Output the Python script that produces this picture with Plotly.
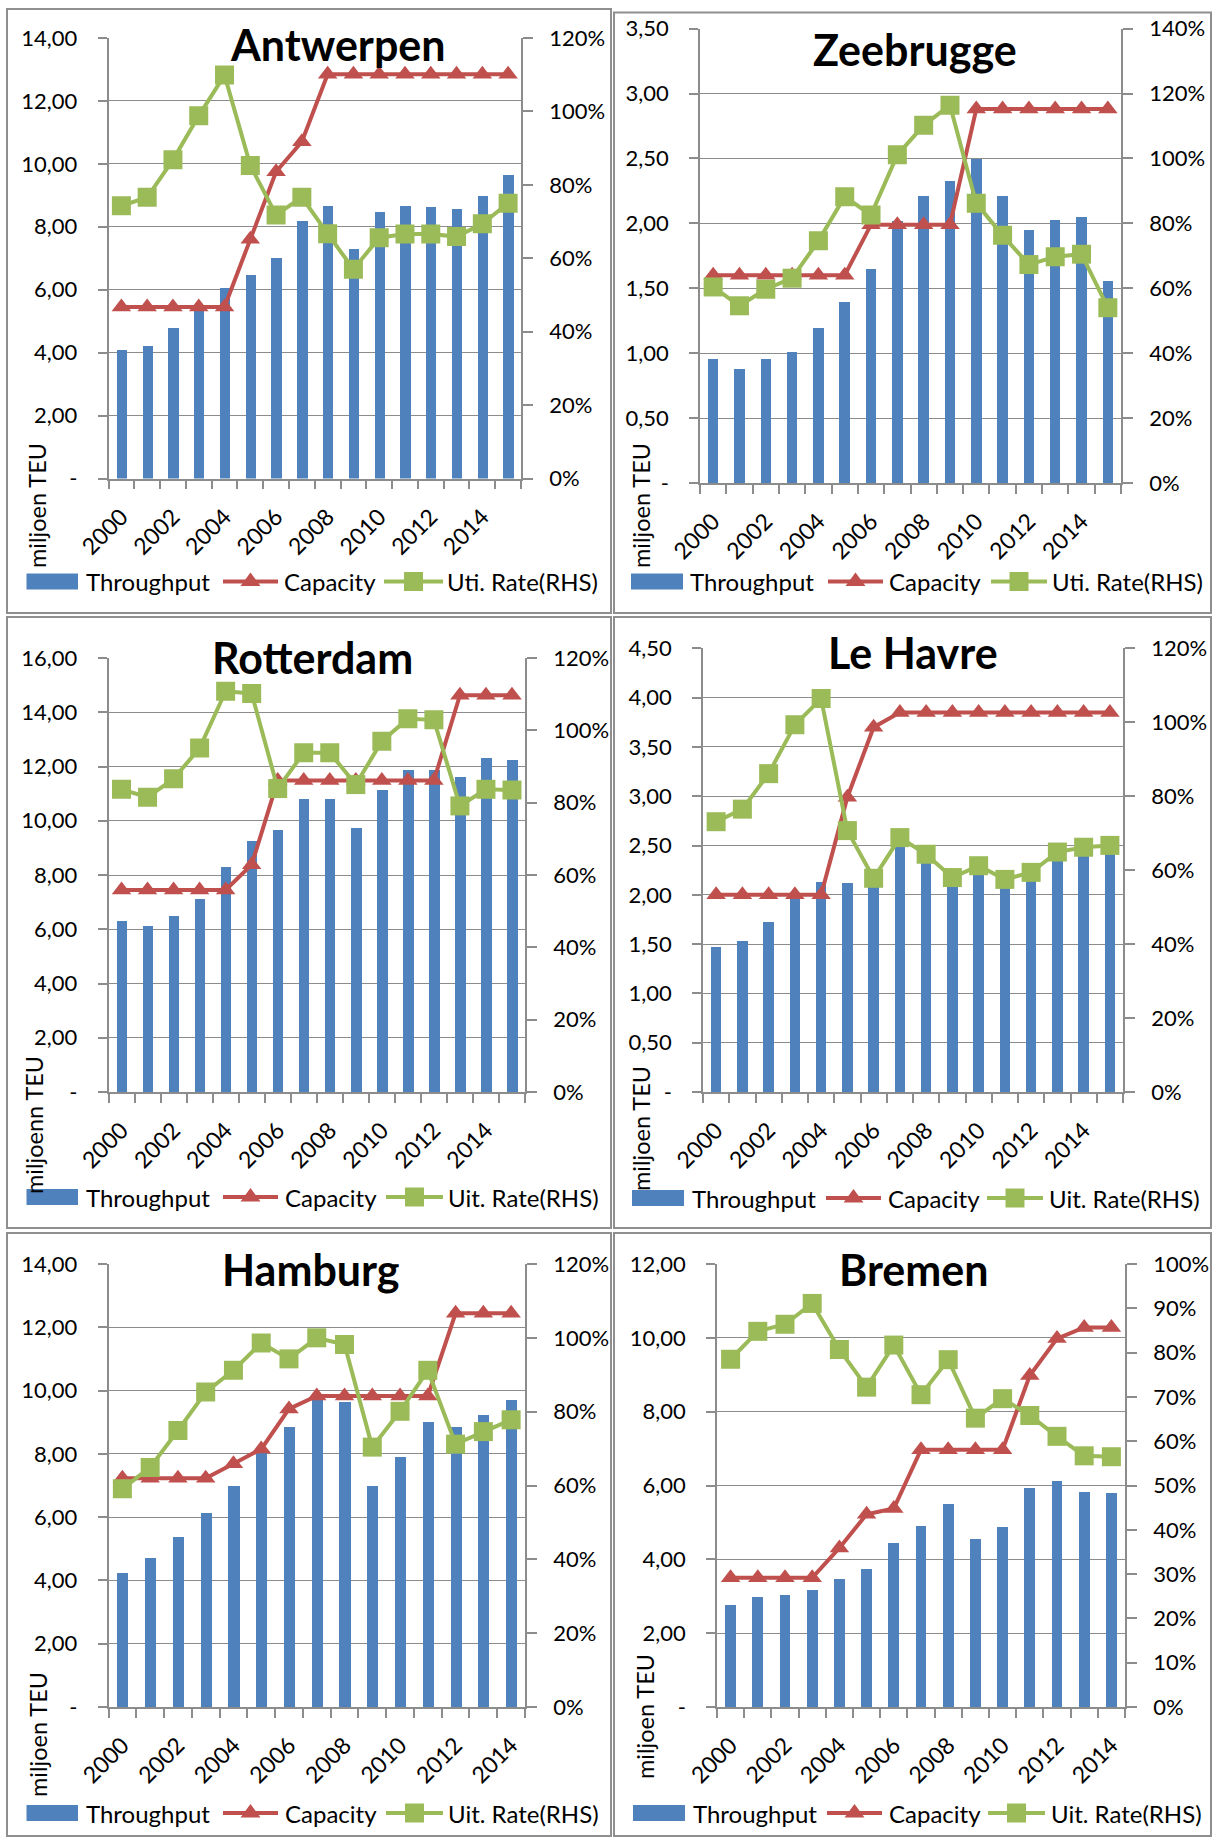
import plotly.graph_objects as go

W, H = 1215, 1838

# ---------------- data ----------------
years_16 = list(range(2000, 2016))
years_15 = list(range(2000, 2015))

antwerpen_throughput = [4.08, 4.22, 4.78, 5.40, 6.06, 6.48, 7.02, 8.18, 8.66, 7.31, 8.47, 8.66, 8.64, 8.58, 8.98, 9.65]
antwerpen_capacity = [5.45, 5.45, 5.45, 5.45, 5.45, 7.60, 9.75, 10.70, 12.85, 12.85, 12.85, 12.85, 12.85, 12.85, 12.85, 12.85]
antwerpen_util = [74.3, 76.6, 86.8, 98.8, 109.9, 85.3, 71.8, 76.6, 66.7, 57.0, 65.6, 66.6, 66.6, 65.9, 69.4, 75.0]

zeebrugge_throughput = [0.96, 0.88, 0.96, 1.01, 1.20, 1.40, 1.65, 2.02, 2.21, 2.33, 2.50, 2.21, 1.95, 2.03, 2.05, 1.56]
zeebrugge_capacity = [1.60, 1.60, 1.60, 1.60, 1.60, 1.60, 1.99, 1.99, 1.99, 1.99, 2.88, 2.88, 2.88, 2.88, 2.88, 2.88]
zeebrugge_util = [60.4, 54.6, 59.7, 63.1, 74.6, 88.2, 82.6, 101.1, 110.2, 116.4, 86.2, 76.3, 67.3, 69.7, 70.5, 54.0]

rotterdam_throughput = [6.29, 6.11, 6.50, 7.10, 8.30, 9.25, 9.65, 10.80, 10.80, 9.74, 11.14, 11.87, 11.87, 11.62, 12.30, 12.23]
rotterdam_capacity = [7.45, 7.45, 7.45, 7.45, 7.45, 8.38, 11.48, 11.48, 11.48, 11.48, 11.48, 11.48, 11.48, 14.63, 14.63, 14.63]
rotterdam_util = [83.7, 81.5, 86.6, 95.1, 110.8, 110.2, 83.9, 93.8, 93.8, 85.0, 97.0, 103.2, 102.9, 79.1, 83.7, 83.5]

lehavre_throughput = [1.47, 1.53, 1.72, 1.99, 2.13, 2.12, 2.14, 2.65, 2.48, 2.23, 2.36, 2.21, 2.29, 2.50, 2.55, 2.57]
lehavre_capacity = [2.00, 2.00, 2.00, 2.00, 2.00, 2.99, 3.70, 3.85, 3.85, 3.85, 3.85, 3.85, 3.85, 3.85, 3.85, 3.85]
lehavre_util = [73.1, 76.5, 86.1, 99.3, 106.4, 70.7, 57.8, 68.8, 64.3, 58.0, 61.2, 57.5, 59.4, 64.9, 66.2, 66.7]

hamburg_throughput = [4.24, 4.70, 5.37, 6.13, 6.99, 8.04, 8.85, 9.83, 9.65, 6.99, 7.90, 9.01, 8.86, 9.24, 9.70]
hamburg_capacity = [7.23, 7.23, 7.23, 7.23, 7.69, 8.15, 9.42, 9.83, 9.83, 9.83, 9.83, 9.83, 12.44, 12.44, 12.44]
hamburg_util = [59.1, 64.9, 74.9, 85.3, 91.2, 98.6, 94.3, 100.0, 98.2, 70.4, 80.1, 91.2, 71.2, 74.6, 77.8]

bremen_throughput = [2.75, 2.98, 3.04, 3.18, 3.47, 3.74, 4.43, 4.90, 5.50, 4.54, 4.88, 5.93, 6.12, 5.82, 5.80]
bremen_capacity = [3.50, 3.50, 3.50, 3.50, 4.31, 5.22, 5.38, 6.97, 6.97, 6.97, 6.97, 8.98, 9.98, 10.28, 10.28]
bremen_util = [78.5, 84.8, 86.4, 91.1, 80.7, 72.2, 81.7, 70.5, 78.4, 65.2, 69.6, 65.8, 61.1, 56.7, 56.5]

# axis tick labels
ticks_14 = ["-", "2,00", "4,00", "6,00", "8,00", "10,00", "12,00", "14,00"]
ticks_16 = ["-", "2,00", "4,00", "6,00", "8,00", "10,00", "12,00", "14,00", "16,00"]
ticks_12 = ["-", "2,00", "4,00", "6,00", "8,00", "10,00", "12,00"]
ticks_350 = ["-", "0,50", "1,00", "1,50", "2,00", "2,50", "3,00", "3,50"]
ticks_450 = ["-", "0,50", "1,00", "1,50", "2,00", "2,50", "3,00", "3,50", "4,00", "4,50"]
pct_120 = ["0%", "20%", "40%", "60%", "80%", "100%", "120%"]
pct_140 = ["0%", "20%", "40%", "60%", "80%", "100%", "120%", "140%"]
pct_100 = ["0%", "10%", "20%", "30%", "40%", "50%", "60%", "70%", "80%", "90%", "100%"]

series_names = ["Throughput", "Capacity"]

# ---------------- styling / layout ----------------
BLUE = "#4F81BD"
RED = "#C0504D"
GREEN = "#9BBB59"
GRID = "#8c8c8c"
BORDER = "#8f8f8f"
FONT = "Lato"


def fx(px):
    return px / W


def fy(py):
    return 1 - py / H


panels = [
    dict(title="Antwerpen", years=years_16, tp=antwerpen_throughput, cap=antwerpen_capacity, util=antwerpen_util,
         lstep=2, lticks=ticks_14, rstep=20, rticks=pct_120,
         box=(108.5, 521, 38, 478.5), border=(7, 611, 9, 613), tpos=(338, 44),
         ytitle="miljoen TEU", ypos=(37, 506), util_name="Uti. Rate(RHS)",
         leg=dict(y=581.5, b=(26.5, 78), t1=84, r=(223, 278), t2=282, g=(384, 443), t3=445)),
    dict(title="Zeebrugge", years=years_16, tp=zeebrugge_throughput, cap=zeebrugge_capacity, util=zeebrugge_util,
         lstep=0.5, lticks=ticks_350, rstep=20, rticks=pct_140,
         box=(700, 1121, 28.6, 483), border=(614, 1211, 12.5, 613), tpos=(915, 49),
         ytitle="miljoen TEU", ypos=(641, 506), util_name="Uti. Rate(RHS)",
         leg=dict(y=581.5, b=(631, 683), t1=688, r=(828, 883), t2=887, g=(991, 1047), t3=1050)),
    dict(title="Rotterdam", years=years_16, tp=rotterdam_throughput, cap=rotterdam_capacity, util=rotterdam_util,
         lstep=2, lticks=ticks_16, rstep=20, rticks=pct_120,
         box=(108.5, 525, 658, 1092), border=(7, 611, 617, 1228), tpos=(312, 658),
         ytitle="miljoenn TEU", ypos=(34, 1125), util_name="Uit. Rate(RHS)",
         leg=dict(y=1197, b=(26.5, 78), t1=84, r=(223, 278), t2=283, g=(386, 443), t3=446)),
    dict(title="Le Havre", years=years_16, tp=lehavre_throughput, cap=lehavre_capacity, util=lehavre_util,
         lstep=0.5, lticks=ticks_450, rstep=20, rticks=pct_120,
         box=(703, 1123, 648.3, 1092), border=(614, 1211, 617, 1228), tpos=(913, 652),
         ytitle="miljoen TEU", ypos=(641, 1129), util_name="Uit. Rate(RHS)",
         leg=dict(y=1198, b=(632, 684), t1=690, r=(826, 881), t2=886, g=(987, 1043), t3=1047)),
    dict(title="Hamburg", years=years_15, tp=hamburg_throughput, cap=hamburg_capacity, util=hamburg_util,
         lstep=2, lticks=ticks_14, rstep=20, rticks=pct_120,
         box=(108.5, 525, 1264, 1707), border=(7, 611, 1233, 1836), tpos=(311, 1269),
         ytitle="miljoen TEU", ypos=(38, 1735), util_name="Uit. Rate(RHS)",
         leg=dict(y=1813, b=(26.5, 78), t1=84, r=(223, 278), t2=283, g=(386, 443), t3=446)),
    dict(title="Bremen", years=years_15, tp=bremen_throughput, cap=bremen_capacity, util=bremen_util,
         lstep=2, lticks=ticks_12, rstep=10, rticks=pct_100,
         box=(717, 1125, 1264, 1707), border=(614, 1211, 1233, 1836), tpos=(914, 1269),
         ytitle="miljoen TEU", ypos=(645, 1717), util_name="Uit. Rate(RHS)",
         leg=dict(y=1813, b=(633, 685), t1=691, r=(827, 882), t2=887, g=(988, 1045), t3=1048.5)),
]

fig = go.Figure()
shapes = []
annotations = []
layout = {}

for i, p in enumerate(panels):
    k = i + 1
    xa = "x" if k == 1 else f"x{k}"
    yl_i = 2 * i + 1
    yr_i = 2 * i + 2
    yl = "y" if yl_i == 1 else f"y{yl_i}"
    yr = f"y{yr_i}"
    yrs = p["years"]

    fig.add_trace(go.Bar(x=yrs, y=p["tp"], name=series_names[0], marker=dict(color=BLUE, line=dict(width=0)),
                         width=0.4, xaxis=xa, yaxis=yl, showlegend=False))
    fig.add_trace(go.Scatter(x=yrs, y=p["cap"], name=series_names[1], mode="lines+markers",
                             line=dict(color=RED, width=4),
                             marker=dict(symbol="triangle-up", size=17, color=RED),
                             xaxis=xa, yaxis=yl, showlegend=False))
    fig.add_trace(go.Scatter(x=yrs, y=p["util"], name=p["util_name"], mode="lines+markers",
                             line=dict(color=GREEN, width=4),
                             marker=dict(symbol="square", size=19, color=GREEN),
                             xaxis=xa, yaxis=yr, showlegend=False))

    x0, x1, y0, y1 = p["box"]
    lmax = p["lstep"] * (len(p["lticks"]) - 1)
    rmax = p["rstep"] * (len(p["rticks"]) - 1)

    layout["xaxis" if k == 1 else f"xaxis{k}"] = dict(
        domain=[fx(x0), fx(x1)], anchor=yl, range=[yrs[0] - 0.5, yrs[-1] + 0.5],
        tickmode="array", tickvals=yrs[::2], ticktext=[str(v) for v in yrs[::2]],
        tickangle=-45, ticks="", showgrid=False, zeroline=False,
        showline=True, linecolor=GRID, linewidth=1.5, automargin=False,
        tickfont=dict(family=FONT, size=23, color="#000"), ticklabelstandoff=14,
        minor=dict(tickmode="array", tickvals=[v - 0.5 for v in yrs] + [yrs[-1] + 0.5],
                   ticks="outside", ticklen=9, tickwidth=1.5, tickcolor=GRID, showgrid=False),
        fixedrange=True,
    )
    layout["yaxis" if yl_i == 1 else f"yaxis{yl_i}"] = dict(
        domain=[fy(y1), fy(y0)], anchor=xa, range=[0, lmax],
        tickmode="array", tickvals=[j * p["lstep"] for j in range(len(p["lticks"]))], ticktext=p["lticks"],
        ticks="outside", ticklen=9, tickwidth=1.5, tickcolor=GRID,
        showgrid=True, gridcolor=GRID, gridwidth=1.4, zeroline=False,
        showline=True, linecolor=GRID, linewidth=1.5, automargin=False,
        tickfont=dict(family=FONT, size=22, color="#000"), ticklabelstandoff=16,
        fixedrange=True,
    )
    layout[f"yaxis{yr_i}"] = dict(
        domain=[fy(y1), fy(y0)], anchor=xa, overlaying=yl, side="right", range=[0, rmax],
        tickmode="array", tickvals=[j * p["rstep"] for j in range(len(p["rticks"]))], ticktext=p["rticks"],
        ticks="outside", ticklen=10, tickwidth=1.5, tickcolor=GRID,
        showgrid=False, zeroline=False, showline=True, linecolor=GRID, linewidth=1.5, automargin=False,
        tickfont=dict(family=FONT, size=22, color="#000"), ticklabelstandoff=12,
        fixedrange=True,
    )

    # panel border
    bx0, bx1, by0, by1 = p["border"]
    shapes.append(dict(type="rect", xref="paper", yref="paper", x0=fx(bx0), x1=fx(bx1), y0=fy(by1), y1=fy(by0),
                       line=dict(color=BORDER, width=2), fillcolor="rgba(0,0,0,0)", layer="below"))

    # title
    tx, ty = p["tpos"]
    annotations.append(dict(text=f"<b>{p['title']}</b>", x=fx(tx), y=fy(ty), xref="paper", yref="paper",
                            xanchor="center", yanchor="middle", showarrow=False,
                            font=dict(family=FONT, size=43, color="#000")))
    # y-axis title
    ax_, ay_ = p["ypos"]
    annotations.append(dict(text=p["ytitle"], x=fx(ax_), y=fy(ay_), xref="paper", yref="paper",
                            xanchor="center", yanchor="middle", textangle=-90, showarrow=False,
                            font=dict(family=FONT, size=23.5, color="#000")))

    # legend
    L = p["leg"]
    ly = L["y"]
    shapes.append(dict(type="rect", xref="paper", yref="paper", x0=fx(L["b"][0]), x1=fx(L["b"][1]),
                       y0=fy(ly + 8), y1=fy(ly - 8), line=dict(width=0), fillcolor=BLUE))
    shapes.append(dict(type="line", xref="paper", yref="paper", x0=fx(L["r"][0]), x1=fx(L["r"][1]),
                       y0=fy(ly), y1=fy(ly), line=dict(color=RED, width=4)))
    cx = (L["r"][0] + L["r"][1]) / 2
    tri = f"M {fx(cx - 10)} {fy(ly + 4.5)} L {fx(cx + 10)} {fy(ly + 4.5)} L {fx(cx)} {fy(ly - 9)} Z"
    shapes.append(dict(type="path", xref="paper", yref="paper", path=tri, line=dict(width=0), fillcolor=RED))
    shapes.append(dict(type="line", xref="paper", yref="paper", x0=fx(L["g"][0]), x1=fx(L["g"][1]),
                       y0=fy(ly), y1=fy(ly), line=dict(color=GREEN, width=4)))
    gx = (L["g"][0] + L["g"][1]) / 2
    shapes.append(dict(type="rect", xref="paper", yref="paper", x0=fx(gx - 9.5), x1=fx(gx + 9.5),
                       y0=fy(ly + 9.5), y1=fy(ly - 9.5), line=dict(width=0), fillcolor=GREEN))
    for txt, xx in [(series_names[0], L["t1"]), (series_names[1], L["t2"]), (p["util_name"], L["t3"])]:
        annotations.append(dict(text=txt, x=fx(xx), y=fy(ly), xref="paper", yref="paper",
                                xanchor="left", yanchor="middle", showarrow=False,
                                font=dict(family=FONT, size=24, color="#000")))

fig.update_layout(
    width=W, height=H, autosize=False,
    margin=dict(l=0, r=0, t=0, b=0, pad=0, autoexpand=False),
    paper_bgcolor="white", plot_bgcolor="rgba(0,0,0,0)",
    showlegend=False, bargap=0,
    shapes=shapes, annotations=annotations,
    font=dict(family=FONT),
    **layout,
)

fig.write_html("out.html", config={"displayModeBar": False},
               post_script="document.body.style.margin='0px';document.body.style.overflow='hidden';")
